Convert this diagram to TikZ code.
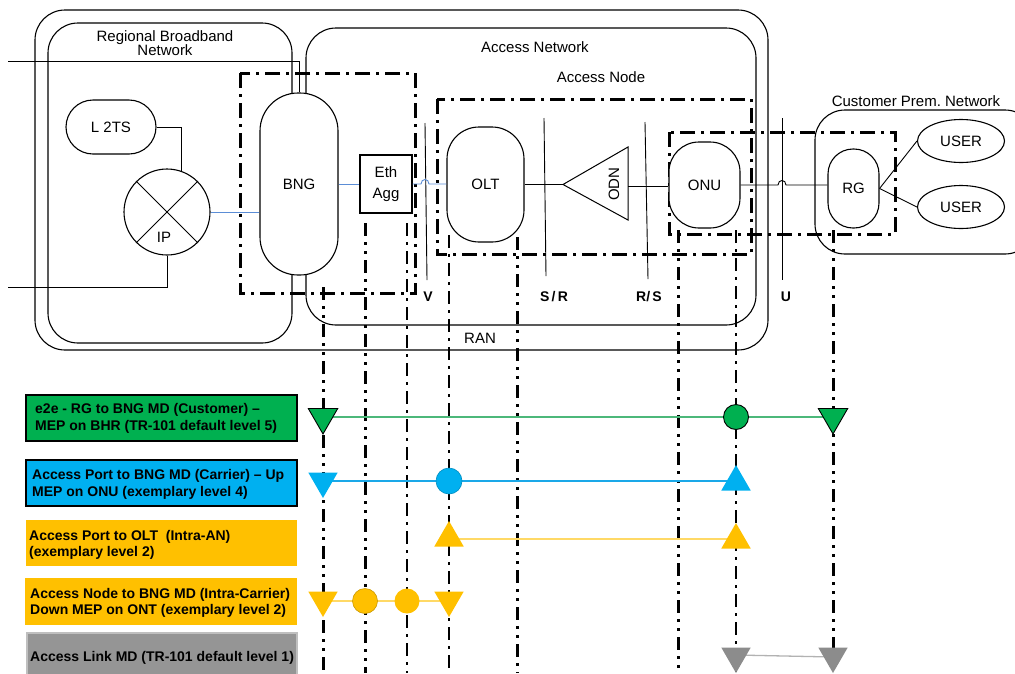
\documentclass[tikz,border=0pt]{standalone}
\usepackage{fontspec}
\setmainfont{Liberation Sans}
\usetikzlibrary{shapes.geometric,calc}
\definecolor{mgreen}{HTML}{00B050}
\definecolor{mblue}{HTML}{00B0F0}
\definecolor{morange}{HTML}{FFC000}
\definecolor{lorange}{HTML}{FFD966}
\definecolor{lgreen}{HTML}{4CB87A}
\definecolor{lblue}{HTML}{1AA8E8}
\definecolor{cblue}{HTML}{5B8DD6}
\definecolor{mgray}{HTML}{8C8C8C}
\definecolor{bgray}{HTML}{959595}
\begin{document}
\begin{tikzpicture}[x=1pt,y=-1pt,
  lbl/.style={font=\fontsize{15}{14}\selectfont, align=center, inner sep=0},
  ifl/.style={font=\fontsize{14}{14}\selectfont\bfseries, inner sep=0},
  lnk/.style={line width=0.9pt},
  blueln/.style={line width=0.9pt, draw=cblue},
  myframe/.style={draw, line width=1.1pt, rounded corners=30pt},
  ddbox/.style={line width=3pt, dash pattern=on 15pt off 6pt on 3pt off 6pt},
  dropA/.style={line width=3pt, dash pattern=on 13pt off 6pt on 3pt off 6pt on 3pt off 6pt},
  dropB/.style={line width=2.4pt, dash pattern=on 13pt off 6pt on 3pt off 6pt},
  pill/.style={draw, fill=white, line width=1.1pt, inner sep=0, font=\fontsize{15}{14}\selectfont},
  tdown/.style={regular polygon, regular polygon sides=3, shape border rotate=180, minimum size=34pt, inner sep=0},
  tup/.style={regular polygon, regular polygon sides=3, minimum size=34pt, inner sep=0},
  dotc/.style={circle, minimum size=25pt, inner sep=0},
  legbox/.style={minimum width=271pt, minimum height=46pt, inner sep=0},
  legtxt/.style={anchor=west, align=left, inner sep=0, font=\fontsize{14}{16.5}\selectfont\bfseries},
]
\useasboundingbox (0,0) rectangle (1015,673);
\clip (0,0) rectangle (1015,673);

% frames
\draw[myframe] (35,10) rectangle (768,350);
\draw[myframe] (48,23) rectangle (292,343);
\draw[myframe] (306,28) rectangle (756,325);
\draw[myframe] (815,110) rectangle (1035,254);

% frame labels
\node[lbl] (rbn) at (165,43) {Regional Broadband\\Network};
\node[lbl] (an) at (535,47) {Access Network};
\node[lbl] (anode) at (601,77) {Access Node};
\node[lbl] (cpn) at (916,101) {Customer Prem.\ Network};
\node[lbl] (ran) at (480,338) {RAN};

% dash-dot boxes
\draw[ddbox] (240,73) rectangle (415,293);
\draw[ddbox] (437,99) rectangle (751,254);
\draw[ddbox] (669,132) rectangle (895,234);

% interface reference lines
\draw[lnk] (425,123) -- (427,280);
\draw[lnk] (544,118) -- (546,276);
\draw[lnk] (645,122) -- (648,279);
\draw[lnk] (782,118) -- (782,280);
\node[ifl] (lv) at (428,297) {V};
\node[ifl] (lsr) at (554,297) {S\,/\,R};
\node[ifl] (lrs) at (649,297) {R/\,S};
\node[ifl] (lu) at (786,297) {U};

% drop lines
\draw[dropA] (323,287) -- (323,673);
\draw[dropA] (365,223) -- (365,673);
\draw[dropB] (407,223) -- (407,673);
\draw[dropB] (449,235) -- (449,673);
\draw[dropA] (517,237) -- (517,673);
\draw[dropA] (678,230) -- (678,673);
\draw[dropB] (736,230) -- (736,673);
\draw[dropA] (833,230) -- (833,673);

% network elements
\node[pill, minimum width=90pt, minimum height=54pt, rounded corners=27pt] (l2ts) at (111,127) {L 2TS};
\node[draw, circle, fill=white, minimum size=86pt, line width=1.1pt, inner sep=0] (ip) at (167,212) {};
\draw[lnk] (ip.45) -- (ip.225);
\draw[lnk] (ip.135) -- (ip.315);
\node[lbl] (ipl) at (164,237) {IP};
\node[pill, minimum width=78pt, minimum height=182pt, rounded corners=38pt] (bng) at (299,184) {BNG};
\node[draw, fill=white, line width=1.1pt, minimum width=52pt, minimum height=58pt, lbl] (eth) at (386,184) {Eth\\[7pt]Agg};
\node[pill, minimum width=77pt, minimum height=115pt, rounded corners=32pt] (olt) at (485.5,184.5) {OLT};
\draw[line width=1pt, fill=white] (563,184.5) -- (628,147) -- (628,220) -- cycle;
\coordinate (odnA) at (563,184.5);
\coordinate (odnB) at (628,186);
\node[lbl, rotate=90] (odn) at (614,184) {ODN};
\node[pill, minimum width=71pt, minimum height=86pt, rounded corners=30pt] (onu) at (704.5,185) {ONU};
\node[pill, minimum width=51pt, minimum height=79pt, rounded corners=25pt] (rg) at (853.5,188.5) {RG};
\node[draw, ellipse, line width=1.1pt, minimum width=87pt, minimum height=43pt, inner sep=0, font=\fontsize{15}{14}\selectfont] (user1) at (961,141) {USER};
\node[draw, ellipse, line width=1.1pt, minimum width=87pt, minimum height=43pt, inner sep=0, font=\fontsize{15}{14}\selectfont] (user2) at (961,207) {USER};

% connectors
\coordinate (inA) at (8,61);
\coordinate (inB) at (8,287);
\draw[lnk] (inA) -| (bng.north);
\draw[lnk] (inB) -| (ip.south);
\draw[lnk] (l2ts.east) -| (ip.71);
\draw[blueln] (ip.east) -- (ip.east -| bng.west);
\draw[blueln] (bng.east |- eth.west) -- (eth.west);
\draw[blueln] (eth.east) -- (421,184) .. controls (421,178) and (429,178) .. (429,184) -- (eth.east -| olt.west);
\draw[lnk] (olt.east) -- (odnA);
\draw[lnk] (odnB) -- (odnB -| onu.west);
\draw[lnk] (onu.east) -- (778,185) .. controls (778,179) and (786,179) .. (786,185) -- (onu.east -| rg.west);
\draw[lnk] (rg.east) -- (user1.west);
\draw[lnk] (rg.east) -- (user2.west);

% legend boxes
\node[legbox, fill=mgreen, draw=black, line width=1.2pt] (lg1) at (161.5,418) {};
\node[legtxt] (lt1) at (35,418.5) {e2e - RG to BNG MD (Customer) –\\MEP on BHR (TR-101 default level 5)};
\node[legbox, fill=mblue, draw=black, line width=1.2pt] (lg2) at (161.5,483) {};
\node[legtxt] (lt2) at (32,484.5) {Access Port to BNG MD (Carrier) – Up\\MEP on ONU (exemplary level 4)};
\node[legbox, fill=morange] (lg3) at (161.5,543) {};
\node[legtxt] (lt3) at (29,545) {Access Port to OLT\ \ (Intra-AN)\\(exemplary level 2)};
\node[legbox, fill=morange, minimum width=272pt, minimum height=47pt] (lg4) at (161,601.5) {};
\node[legtxt] (lt4) at (30,603) {Access Node to BNG MD (Intra-Carrier)\\Down MEP on ONT (exemplary level 2)};
\node[legbox, fill=bgray, draw=gray!50, line width=1.2pt, minimum width=270pt, minimum height=54pt] (lg5) at (162,660) {};
\node[legtxt] (lt5) at (30,658) {Access Link MD (TR-101 default level 1)};

% row 1: green
\draw[lgreen, line width=1.5pt] (323,417) -- (833,417);
\node[tdown, fill=mgreen, draw=black, line width=0.9pt] (g1) at (323,417) {};
\node[dotc, fill=mgreen, draw=black, line width=0.9pt] (g2) at (736,417) {};
\node[tdown, fill=mgreen, draw=black, line width=0.9pt] (g3) at (833,417) {};
% row 2: blue
\draw[lblue, line width=1.3pt] (323,481) -- (736,481);
\node[tdown, fill=mblue] (b1) at (323,481) {};
\node[dotc, fill=mblue, draw=mblue!80!black, line width=0.6pt, minimum size=26pt] (b2) at (449,481) {};
\node[tup, fill=mblue] (b3) at (736,482) {};
% row 3: orange
\draw[lorange, line width=1.8pt] (449,539) -- (736,539);
\node[tup, fill=morange] (o1) at (449,538) {};
\node[tup, fill=morange] (o2) at (736,540) {};
% row 4: orange
\draw[lorange, line width=1.8pt] (323,601) -- (449,601);
\node[tdown, fill=morange] (o3) at (323,600) {};
\node[dotc, fill=morange, draw=morange!80!black, line width=0.6pt] (o4) at (365,601) {};
\node[dotc, fill=morange] (o5) at (407,601) {};
\node[tdown, fill=morange] (o6) at (449,600) {};
% row 5: gray
\draw[gray!60, line width=1.3pt] (736,655) -- (833,657);
\node[tdown, fill=mgray] (k1) at (736,656) {};
\node[tdown, fill=mgray] (k2) at (833,656) {};
\end{tikzpicture}
\end{document}
